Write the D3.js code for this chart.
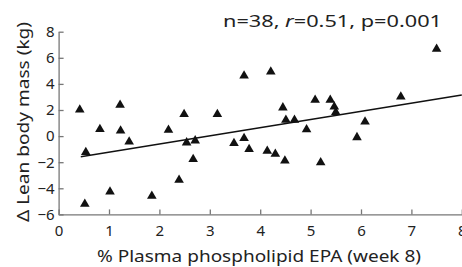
<!DOCTYPE html>
<html>
<head>
<meta charset="utf-8">
<script src="https://cdn.jsdelivr.net/npm/d3@7"></script>
<style>
  body { margin: 0; background: #fff; }
  text { font-family: "Noto Sans", sans-serif; fill: #222; }
</style>
</head>
<body>
<div id="chart"></div>
<script>
var svgWidth = 462;
var svgHeight = 267;

// data: % plasma EPA (x) vs change in lean body mass (y)
var epa = [0.42, 1.22, 2.49, 3.68, 4.21, 3.15, 4.45, 5.09, 5.39, 5.47,
           5.50, 6.79, 6.08, 7.50, 4.92, 5.92, 5.20, 0.82, 1.23, 2.18,
           1.40, 0.54, 2.54, 2.67, 2.39, 1.02, 1.85, 0.52, 2.71, 3.48,
           3.68, 3.78, 4.14, 4.30, 4.49, 4.51, 4.68];
var leanMass = [2.02, 2.38, 1.67, 4.63, 4.93, 1.67, 2.18, 2.77, 2.77, 2.25,
                1.82, 3.02, 1.10, 6.67, 0.50, -0.10, -2.03, 0.52, 0.41, 0.47,
                -0.43, -1.24, -0.50, -1.78, -3.36, -4.26, -4.59, -5.20, -0.35, -0.55,
                -0.17, -1.01, -1.14, -1.37, -1.89, 1.23, 1.23];

// regression line end points
var fitX = [0.44, 8];
var fitY = [-1.58, 3.15];

var xTicks = [0, 1, 2, 3, 4, 5, 6, 7, 8];
var yTicks = [-6, -4, -2, 0, 2, 4, 6, 8];

var margin = { top: 31.7, right: 0.2, bottom: 52.6, left: 58.6 };
var width = svgWidth - margin.left - margin.right;
var height = svgHeight - margin.top - margin.bottom;

var svg = d3.select("#chart")
  .append("svg")
  .attr("width", svgWidth)
  .attr("height", svgHeight);

svg.append("rect")
  .attr("width", svgWidth)
  .attr("height", svgHeight)
  .attr("fill", "white");

var chartGroup = svg.append("g")
  .attr("transform", `translate(${margin.left}, ${margin.top})`);

var xScale = d3.scaleLinear().domain([0, 8]).range([0, width]);
var yScale = d3.scaleLinear().domain([-6, 8]).range([height, 0]);

var bottomAxis = d3.axisBottom(xScale).tickValues(xTicks).tickSizeInner(-5).tickSizeOuter(0).tickPadding(11);
var leftAxis = d3.axisLeft(yScale).tickValues(yTicks).tickSizeInner(-5).tickSizeOuter(0).tickPadding(4)
  .tickFormat(d => d < 0 ? "\u2212" + Math.abs(d) : d);

var xg = chartGroup.append("g")
  .attr("transform", `translate(0, ${height})`)
  .call(bottomAxis);
var yg = chartGroup.append("g")
  .call(leftAxis);

[xg, yg].forEach(function(g) {
  g.select(".domain").attr("stroke", "#777").attr("stroke-width", 1.3);
  g.selectAll(".tick line").attr("stroke", "#777").attr("stroke-width", 1.3);
  g.selectAll(".tick text")
    .attr("font-family", "Noto Sans, sans-serif")
    .attr("font-size", "15px")
    .attr("fill", "#222");
});

// regression line
var line = d3.line().x(d => xScale(d[0])).y(d => yScale(d[1]));
chartGroup.append("path")
  .datum(d3.zip(fitX, fitY))
  .attr("d", line)
  .attr("fill", "none")
  .attr("stroke", "#111")
  .attr("stroke-width", 1.4);

// points
chartGroup.selectAll(".pt")
  .data(d3.zip(epa, leanMass))
  .enter()
  .append("path")
  .attr("class", "pt")
  .attr("d", d3.symbol().type(d3.symbolTriangle).size(40))
  .attr("transform", d => `translate(${xScale(d[0])}, ${yScale(d[1])})`)
  .attr("fill", "#111");

// stats text
var stats = svg.append("text")
  .attr("x", 223)
  .attr("y", 27)
  .attr("font-size", "17px")
  .attr("textLength", 219)
  .attr("lengthAdjust", "spacingAndGlyphs");
stats.append("tspan").text("n=38, ");
stats.append("tspan").attr("font-style", "italic").text("r");
stats.append("tspan").text("=0.51, p=0.001");

// axis titles
svg.append("text")
  .attr("x", 97)
  .attr("y", 261.5)
  .attr("font-size", "17px")
  .attr("textLength", 324)
  .attr("lengthAdjust", "spacingAndGlyphs")
  .text("% Plasma phospholipid EPA (week 8)");

svg.append("text")
  .attr("transform", "rotate(-90)")
  .attr("x", -222)
  .attr("y", 29)
  .attr("font-size", "17px")
  .attr("textLength", 200)
  .attr("lengthAdjust", "spacingAndGlyphs")
  .text("\u0394 Lean body mass (kg)");
</script>
</body>
</html>
